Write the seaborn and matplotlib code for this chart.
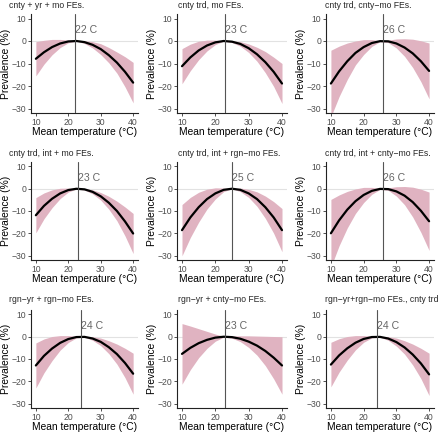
import numpy as np
import pandas as pd
import seaborn as sns
import matplotlib.pyplot as plt

TEMPS = [10, 12.5, 15, 17.5, 20, 22.5, 25, 27.5, 30, 32.5, 35, 37.5, 40]

TITLES = [
    "cnty + yr + mo FEs.", "cnty trd, mo FEs.", "cnty trd, cnty\u2212mo FEs.",
    "cnty trd, int + mo FEs.", "cnty trd, int + rgn\u2212mo FEs.", "cnty trd, int + cnty\u2212mo FEs.",
    "rgn\u2212yr + rgn\u2212mo FEs.", "rgn\u2212yr + cnty\u2212mo FEs.", "rgn\u2212yr+rgn\u2212mo FEs., cnty trd",
]
OPTIMA = [22, 23, 26, 23, 25, 26, 24, 23, 24]

CURVES = [
    [-7.9, -5.0, -2.7, -1.1, -0.2, 0.0, -0.5, -1.7, -3.6, -6.3, -9.6, -13.7, -18.5],
    [-11.2, -7.3, -4.2, -2.0, -0.6, 0.0, -0.3, -1.3, -3.2, -5.9, -9.4, -13.7, -18.9],
    [-18.9, -13.5, -9.0, -5.3, -2.7, -0.9, -0.07, -0.15, -1.1, -2.9, -5.5, -9.0, -13.3],
    [-11.9, -7.7, -4.5, -2.1, -0.6, -0.02, -0.28, -1.4, -3.4, -6.3, -10.0, -14.7, -20.1],
    [-18.6, -12.9, -8.3, -4.65, -2.1, -0.5, 0.0, -0.5, -2.1, -4.65, -8.3, -12.9, -18.6],
    [-20.0, -14.2, -9.4, -5.6, -2.8, -0.96, -0.08, -0.17, -1.2, -3.1, -6.0, -9.9, -14.6],
    [-12.9, -8.6, -5.3, -2.75, -1.04, -0.15, -0.07, -0.8, -2.3, -4.7, -7.8, -11.8, -16.6],
    [-7.7, -5.0, -2.9, -1.4, -0.4, 0.0, -0.18, -0.9, -2.2, -4.0, -6.4, -9.4, -12.9],
    [-12.5, -8.4, -5.2, -2.7, -1.0, -0.14, -0.07, -0.8, -2.4, -4.8, -8.0, -12.0, -16.9],
]
UPPER = [
    [-0.3, 0.3, 0.7, 0.7, 0.4, 0.05, 0.1, -0.3, -1.2, -2.9, -4.9, -7.0, -9.5],
    [-3.4, -1.4, -0.1, 0.4, 0.4, 0.05, 0.1, -0.3, -1.3, -2.8, -4.7, -7.2, -10.0],
    [-4.1, -2.3, -0.9, 0.0, 0.6, 0.6, 0.15, 0.4, 0.9, 1.0, 0.8, 0.1, -0.9],
    [-4.0, -1.9, -0.5, 0.2, 0.3, 0.05, 0.05, -0.5, -1.7, -3.4, -5.6, -8.2, -11.1],
    [-7.1, -3.9, -1.6, -0.2, 0.4, 0.3, 0.0, 0.3, -0.3, -1.4, -3.3, -5.8, -8.9],
    [-4.8, -2.8, -1.2, -0.1, 0.6, 0.6, 0.15, 0.4, 0.9, 1.0, 0.7, -0.2, -1.5],
    [-2.8, -1.0, 0.1, 0.5, 0.5, 0.2, 0.05, 0.0, -0.6, -1.8, -3.3, -5.2, -7.4],
    [5.9, 4.8, 3.6, 2.4, 1.2, 0.2, 0.3, 0.4, 0.4, 0.3, 0.2, 0.1, 0.0],
    [-2.5, -0.9, 0.1, 0.5, 0.5, 0.2, 0.05, 0.0, -0.6, -1.8, -3.3, -5.2, -7.4],
]
LOWER = [
    [-15.5, -10.3, -6.1, -2.9, -0.8, -0.05, -1.1, -3.1, -6.0, -9.7, -14.3, -20.4, -27.5],
    [-19.0, -13.2, -8.3, -4.4, -1.6, -0.05, -0.7, -2.3, -5.1, -9.0, -14.1, -20.2, -27.8],
    [-33.7, -24.7, -17.1, -10.6, -6.0, -2.4, -0.3, -0.7, -3.1, -6.8, -11.8, -18.1, -25.7],
    [-19.8, -13.5, -8.5, -4.4, -1.5, -0.1, -0.6, -2.3, -5.1, -9.2, -14.4, -21.2, -29.1],
    [-30.1, -21.9, -15.0, -9.1, -4.6, -1.3, 0.0, -1.3, -3.9, -7.9, -13.3, -20.0, -28.3],
    [-35.2, -25.6, -17.6, -11.1, -6.2, -2.5, -0.3, -0.7, -3.3, -7.2, -12.7, -19.6, -27.7],
    [-23.0, -16.2, -10.7, -6.0, -2.6, -0.5, -0.2, -1.6, -4.0, -7.6, -12.3, -18.4, -25.8],
    [-21.3, -14.8, -9.4, -5.2, -2.0, -0.2, -0.66, -2.2, -4.8, -8.3, -13.0, -18.9, -25.8],
    [-22.5, -15.9, -10.5, -5.9, -2.5, -0.5, -0.2, -1.6, -4.2, -7.8, -12.7, -18.8, -26.4],
]

BAND = "#e0b3c1"
W, H = 440, 433
COL_LEFT = [31, 177, 326]
COL_RIGHT = [138, 287, 434]
ROW_TOP = [14, 162, 310]
ROW_BOTTOM = [113, 260, 408]
TITLE_X = [9, 178, 325]
TITLE_Y = [5.5, 153, 300]


def main():
    sns.set_style("white")
    plt.rcParams["font.family"] = ["Liberation Sans", "DejaVu Sans"]

    fig = plt.figure(figsize=(W / 100, H / 100), dpi=100)
    for i in range(9):
        r, c = divmod(i, 3)
        x0, x1 = COL_LEFT[c], COL_RIGHT[c]
        y0, y1 = ROW_TOP[r], ROW_BOTTOM[r]
        aw, ah = x1 - x0, y1 - y0
        ax = fig.add_axes([x0 / W, 1 - y1 / H, aw / W, ah / H])
        df = pd.DataFrame({"temp": TEMPS, "fit": CURVES[i], "lo": LOWER[i], "hi": UPPER[i]})

        ax.axhline(0, color="#e2e2e2", lw=0.8, zorder=0)
        ax.fill_between(df["temp"], df["lo"], df["hi"], color=BAND, lw=0, zorder=1)
        sns.lineplot(data=df, x="temp", y="fit", ax=ax, color="black", lw=1.6, zorder=3)
        ax.axvline(OPTIMA[i], color="#555555", lw=0.8, zorder=4)
        ax.text(OPTIMA[i], 4.7, f"{OPTIMA[i]} C", color="#666666", fontsize=7.6,
                ha="left", va="center", zorder=5)

        ax.set_xlim(8.5, 41.5)
        ax.set_ylim(-32, 12)
        ax.set_xticks([10, 20, 30, 40])
        ax.set_yticks([-30, -20, -10, 0, 10])
        ax.set_xlabel("Mean temperature (\u00b0C)", fontsize=7.4, color="black", va="center")
        ax.set_ylabel("Prevalence (%)", fontsize=7.4, color="black", va="center")
        ax.xaxis.set_label_coords(0.5, -19 / ah)
        ax.yaxis.set_label_coords(-25 / aw, 0.5)
        ax.tick_params(axis="both", length=2, width=0.6, color="#333333", labelsize=6.2,
                       labelcolor="#4d4d4d", pad=1.5, bottom=True, left=True)
        for side in ["top", "right"]:
            ax.spines[side].set_visible(False)
        for side in ["left", "bottom"]:
            ax.spines[side].set_color("#222222")
            ax.spines[side].set_linewidth(0.8)

        fig.text(TITLE_X[c] / W, 1 - TITLE_Y[r] / H, TITLES[i], fontsize=6.2,
                 ha="left", va="center")

    fig.savefig("out.png", dpi=100)
    plt.close(fig)


if __name__ == "__main__":
    main()
